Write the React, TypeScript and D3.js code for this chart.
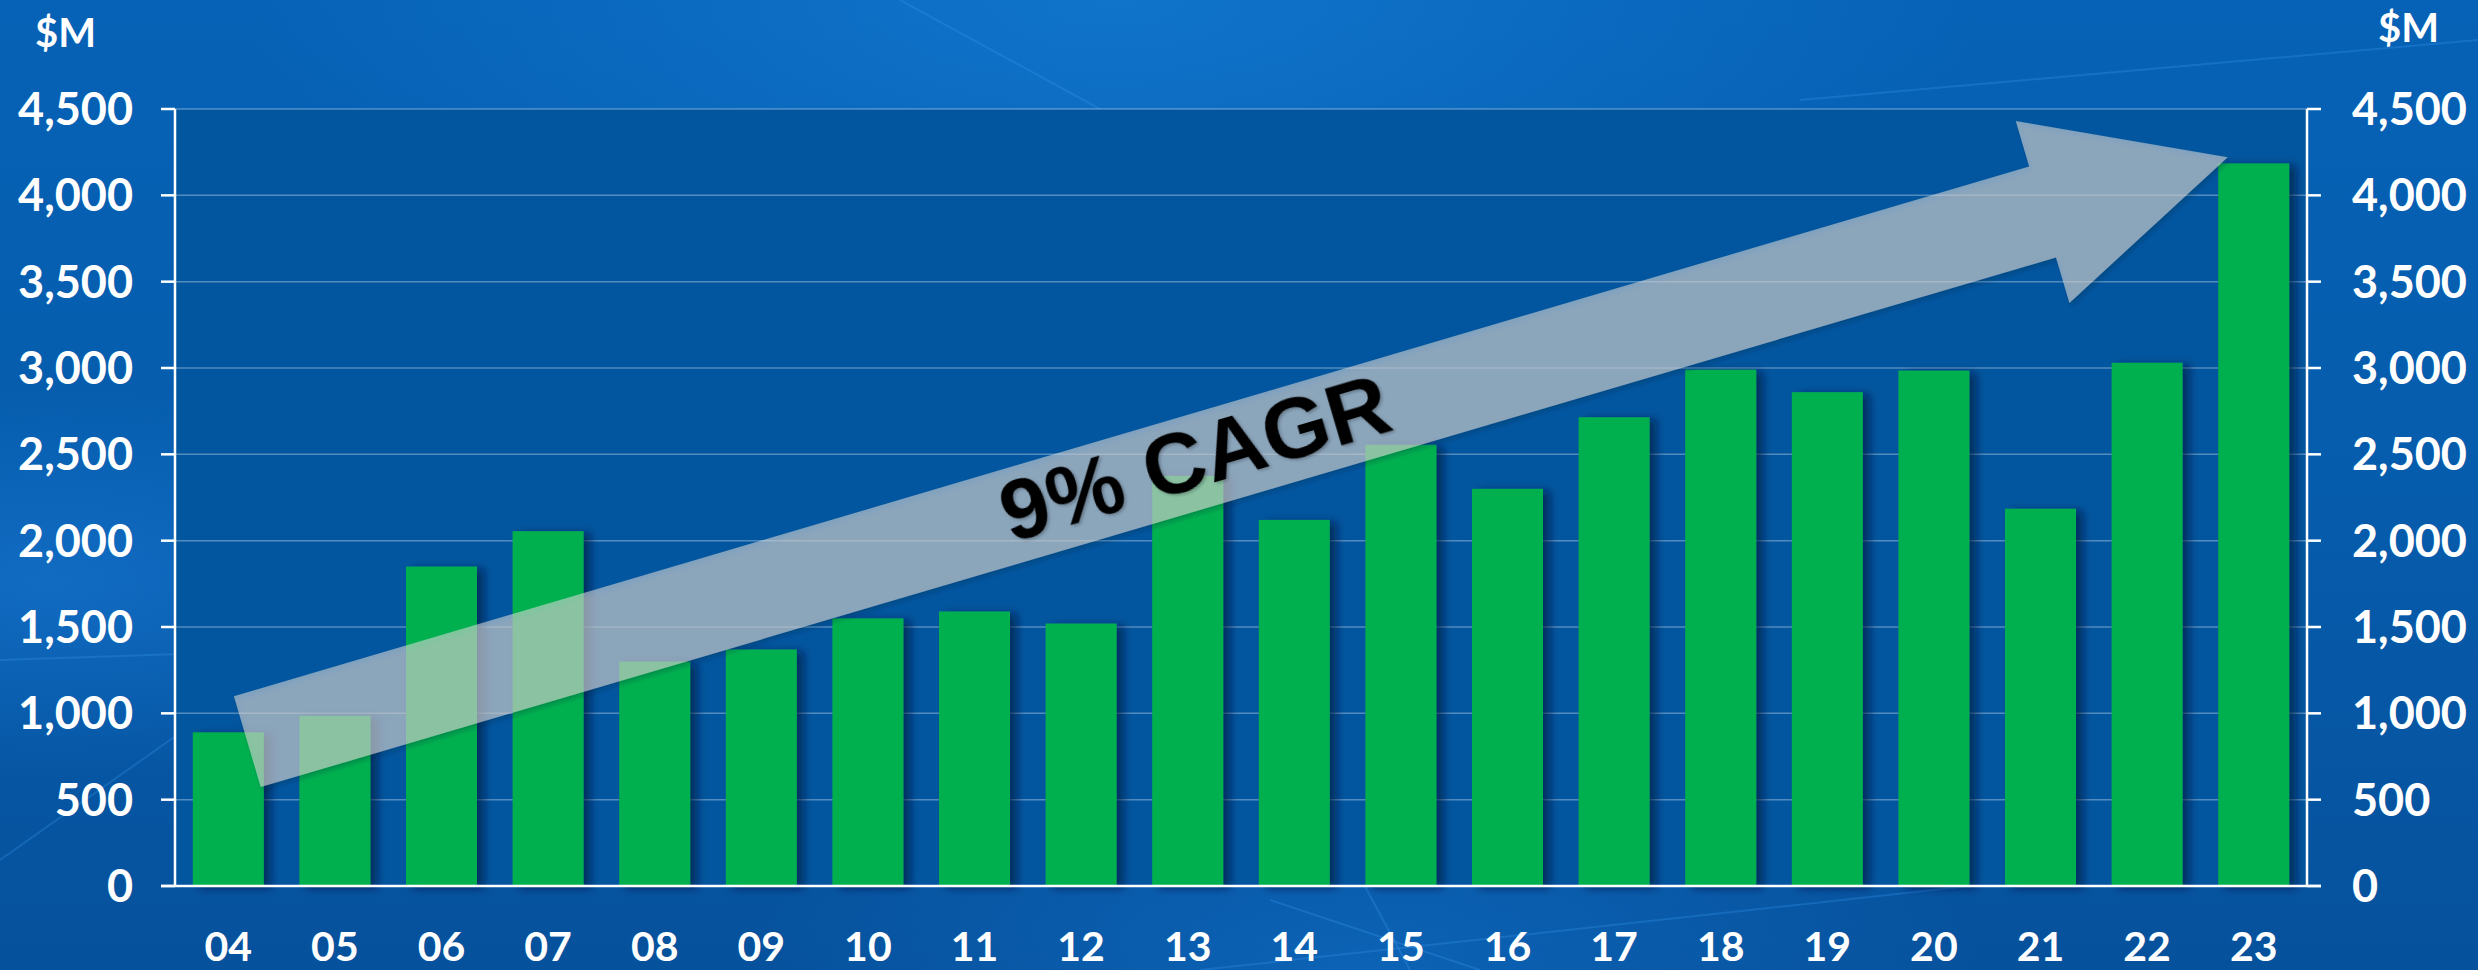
import React from "react";
import * as d3 from "d3";

const YEARS = ["04", "05", "06", "07", "08", "09", "10", "11", "12", "13", "14", "15", "16", "17", "18", "19", "20", "21", "22", "23"];
const VALUES = [890, 985, 1850, 2055, 1300, 1370, 1550, 1590, 1520, 2375, 2120, 2555, 2300, 2715, 2990, 2860, 2985, 2185, 3030, 4185];
const Y_TICKS = [0, 500, 1000, 1500, 2000, 2500, 3000, 3500, 4000, 4500];
const UNIT_LABEL = "$M";
const CAGR_LABEL = "9% CAGR";
// trend arrow anchored in data space: [year, value]
const ARROW_FROM: [string, number] = ["04", 836];
const ARROW_TO: [string, number] = ["23", 4220];

const W = 2478;
const H = 970;
const LEFT = 175;
const RIGHT = 2307;
const TOP = 109;
const BOTTOM = 886;

export default function App() {
  const x = d3.scaleBand<string>().domain(YEARS).range([LEFT, RIGHT]).paddingInner(0.334).paddingOuter(0.167);
  const y = d3.scaleLinear().domain([0, 4500]).range([BOTTOM, TOP]);
  const fmt = d3.format(",");
  const xc = (k: string) => (x(k) ?? 0) + x.bandwidth() / 2;

  // arrow geometry
  const tx = xc(ARROW_FROM[0]) + 19;
  const ty = y(ARROW_FROM[1]);
  const hx = xc(ARROW_TO[0]) - 26;
  const hy = y(ARROW_TO[1]);
  const ddx = hx - tx;
  const ddy = hy - ty;
  const L = Math.hypot(ddx, ddy);
  const ux = ddx / L;
  const uy = ddy / L;
  const px = -uy;
  const py = ux;
  const sw = 47.4;
  const hw = 94.8;
  const hl = 193;
  const bx = hx - ux * hl;
  const by = hy - uy * hl;
  const pts: [number, number][] = [
    [tx - px * sw, ty - py * sw],
    [bx - px * sw, by - py * sw],
    [bx - px * hw, by - py * hw],
    [hx, hy],
    [bx + px * hw, by + py * hw],
    [bx + px * sw, by + py * sw],
    [tx + px * sw, ty + py * sw],
  ];
  const arrowPath = d3.line()(pts) + "Z";
  const angle = (Math.atan2(ddy, ddx) * 180) / Math.PI;
  const tcx = tx + ux * L * 0.479 + px * -6;
  const tcy = ty + uy * L * 0.479 + py * -6;

  const labelFont = "Lato, 'Open Sans', sans-serif";

  return (
    <svg width={W} height={H} style={{ position: "absolute", left: 0, top: 0, display: "block" }}>
      <defs>
        <linearGradient id="bg" x1="0" y1="0" x2="0" y2="1">
          <stop offset="0" stopColor="#0662b6" />
          <stop offset="0.5" stopColor="#065cac" />
          <stop offset="1" stopColor="#06519c" />
        </linearGradient>
        <radialGradient id="glow1" cx="0.45" cy="0.0" r="0.35">
          <stop offset="0" stopColor="#1a86e0" stopOpacity="0.5" />
          <stop offset="1" stopColor="#1a86e0" stopOpacity="0" />
        </radialGradient>
        <radialGradient id="glow2" cx="0.02" cy="0.6" r="0.2">
          <stop offset="0" stopColor="#1a7ad6" stopOpacity="0.55" />
          <stop offset="1" stopColor="#1a7ad6" stopOpacity="0" />
        </radialGradient>
        <radialGradient id="glow3" cx="0.55" cy="1.0" r="0.25">
          <stop offset="0" stopColor="#1478d4" stopOpacity="0.45" />
          <stop offset="1" stopColor="#1478d4" stopOpacity="0" />
        </radialGradient>
        <filter id="barShadow" x="-20%" y="-5%" width="150%" height="110%">
          <feDropShadow dx="7" dy="2" stdDeviation="4" floodColor="#001838" floodOpacity="0.6" />
        </filter>
        <filter id="arrowShadow" x="-5%" y="-10%" width="110%" height="130%">
          <feDropShadow dx="2" dy="3" stdDeviation="2" floodColor="#10203a" floodOpacity="0.45" />
        </filter>
        <filter id="textShadow" x="-10%" y="-20%" width="120%" height="140%">
          <feDropShadow dx="1.5" dy="2" stdDeviation="1.5" floodColor="#000" floodOpacity="0.25" />
        </filter>
      </defs>

      {/* background */}
      <rect x={0} y={0} width={W} height={H} fill="url(#bg)" />
      <rect x={0} y={0} width={W} height={H} fill="url(#glow1)" />
      <rect x={0} y={0} width={W} height={H} fill="url(#glow2)" />
      <rect x={0} y={0} width={W} height={H} fill="url(#glow3)" />
      <g stroke="#3a9cf0" strokeOpacity="0.28" strokeWidth="2" fill="none">
        <line x1={0} y1={660} x2={600} y2={640} />
        <line x1={0} y1={860} x2={340} y2={620} />
        <line x1={1200} y1={970} x2={2300} y2={850} />
        <line x1={1340} y1={840} x2={1410} y2={970} />
        <line x1={1270} y1={900} x2={1480} y2={970} />
        <line x1={1800} y1={100} x2={2478} y2={40} />
        <line x1={900} y1={0} x2={1100} y2={109} />
      </g>

      {/* plot area */}
      <rect x={LEFT} y={TOP} width={RIGHT - LEFT} height={BOTTOM - TOP} fill="#02569f" />

      {/* gridlines */}
      <g stroke="#ffffff" strokeOpacity="0.32" strokeWidth="1.5">
        {Y_TICKS.filter((t) => t > 0).map((t) => (
          <line key={t} x1={LEFT} x2={RIGHT} y1={y(t)} y2={y(t)} />
        ))}
      </g>

      {/* bars */}
      <g filter="url(#barShadow)">
        {YEARS.map((k, i) => (
          <rect key={k} x={x(k)} y={y(VALUES[i])} width={x.bandwidth()} height={y(0) - y(VALUES[i])} fill="#00b050" />
        ))}
      </g>

      {/* axes */}
      <g stroke="#ffffff" strokeWidth="2.5" fill="none">
        <line x1={LEFT} x2={LEFT} y1={TOP} y2={BOTTOM} />
        <line x1={RIGHT} x2={RIGHT} y1={TOP} y2={BOTTOM} />
        <line x1={LEFT - 14} x2={RIGHT + 14} y1={BOTTOM} y2={BOTTOM} />
        {Y_TICKS.map((t) => (
          <g key={t}>
            <line x1={LEFT - 14} x2={LEFT} y1={y(t)} y2={y(t)} />
            <line x1={RIGHT} x2={RIGHT + 14} y1={y(t)} y2={y(t)} />
          </g>
        ))}
      </g>

      {/* y labels */}
      <g fill="#ffffff" fontFamily={labelFont} fontWeight={700} fontSize={45}>
        {Y_TICKS.map((t) => (
          <g key={t}>
            <text x={133} y={y(t) + 16} textAnchor="end">{fmt(t)}</text>
            <text x={2352} y={y(t) + 16} textAnchor="start">{fmt(t)}</text>
          </g>
        ))}
      </g>
      <g fill="#ffffff" fontFamily={labelFont} fontWeight={700} fontSize={40}>
        <text x={35} y={47}>{UNIT_LABEL}</text>
        <text x={2378} y={42}>{UNIT_LABEL}</text>
      </g>

      {/* x labels */}
      <g fill="#ffffff" fontFamily={labelFont} fontWeight={700} fontSize={41}>
        {YEARS.map((k) => (
          <text key={k} x={xc(k)} y={961} textAnchor="middle">{k}</text>
        ))}
      </g>

      {/* trend arrow */}
      <path d={arrowPath} fill="#dcdad8" fillOpacity={0.57} filter="url(#arrowShadow)" />
      <g transform={`translate(${tcx},${tcy}) rotate(${angle})`}>
        <text
          x={0}
          y={31}
          textAnchor="middle"
          fontFamily="'Liberation Sans', Arial, sans-serif"
          fontWeight={700}
          fontSize={86}
          fill="#000000"
          filter="url(#textShadow)"
        >
          {CAGR_LABEL}
        </text>
      </g>
    </svg>
  );
}
